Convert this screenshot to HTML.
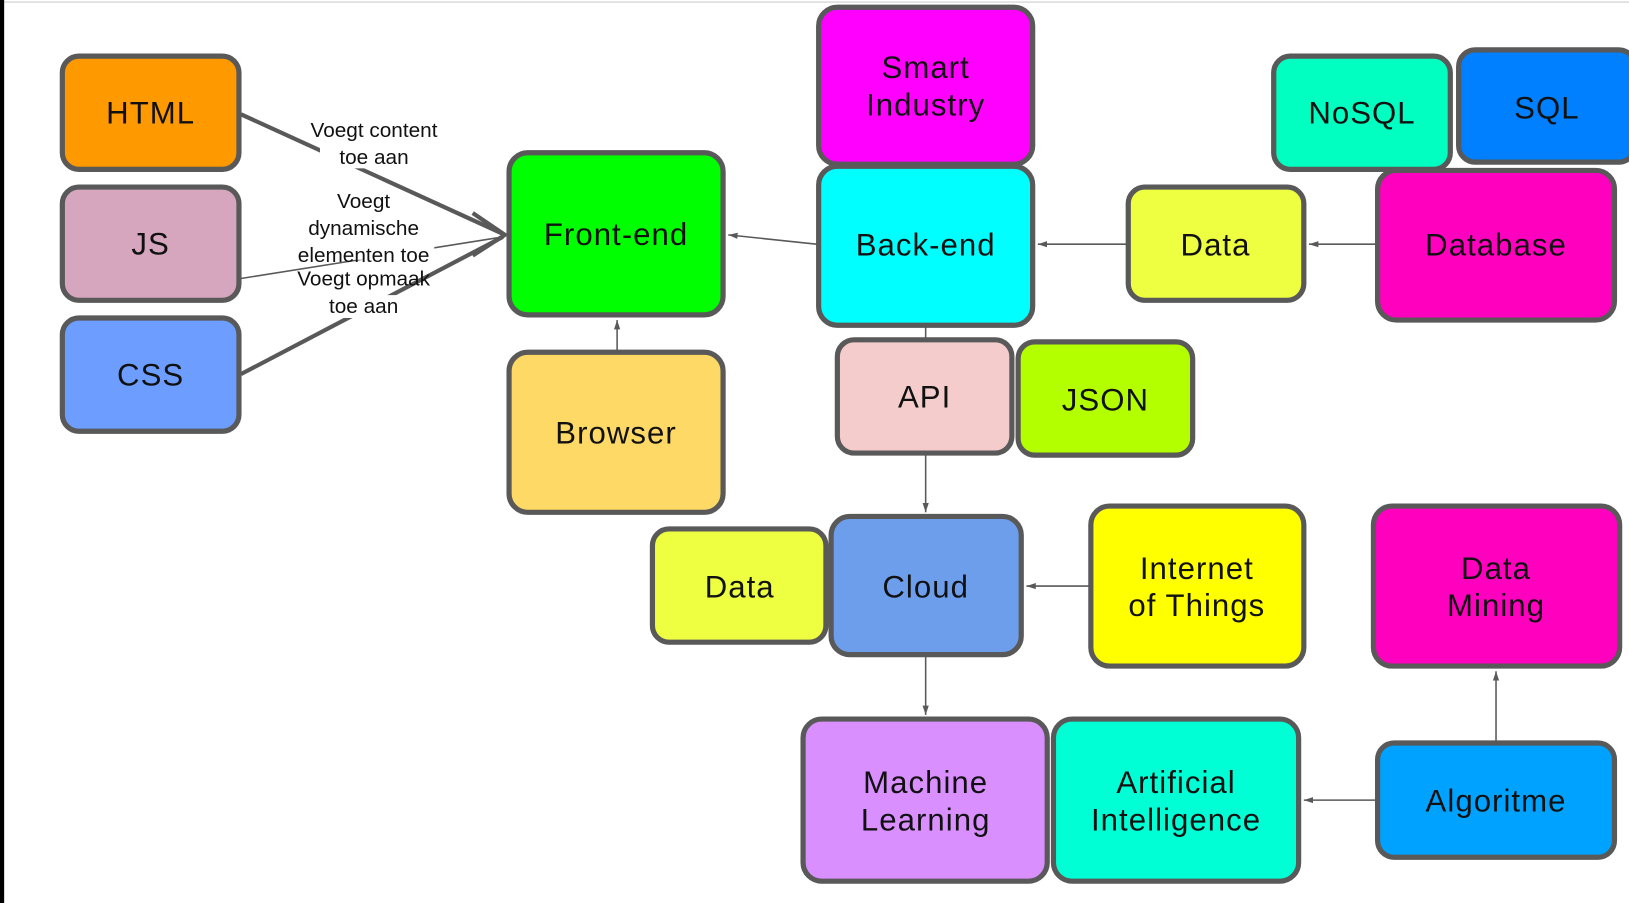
<!DOCTYPE html>
<html><head><meta charset="utf-8"><style>
html,body{margin:0;padding:0;background:#fff;width:1629px;height:903px;overflow:hidden}
svg{display:block}
.b{stroke:#595959;stroke-width:5}
.t{font-family:"Liberation Sans",sans-serif;font-size:30px;fill:#111;text-anchor:middle;letter-spacing:1px}
.l{font-family:"Liberation Sans",sans-serif;font-size:20px;fill:#111;text-anchor:middle}
.c{stroke:#595959;stroke-width:1.5;fill:none}
</style></head><body>
<svg width="1629" height="903" viewBox="0 0 1568 869" preserveAspectRatio="none">
<defs><marker id="a" markerWidth="10" markerHeight="10" refX="9" refY="5" orient="auto" markerUnits="userSpaceOnUse"><path d="M0,2 L9,5 L0,8 Z" fill="#595959"/></marker></defs>
<rect x="0" y="0" width="1568" height="869" fill="#fff"/>
<line x1="0" y1="2" x2="1568" y2="2" stroke="#ddd" stroke-width="1.5"/>
<rect x="0" y="0" width="4" height="869" fill="#000"/>

<!-- connectors -->
<line x1="232" y1="110" x2="484" y2="225" stroke="#595959" stroke-width="4"/>
<line x1="232" y1="268" x2="484" y2="228" stroke="#595959" stroke-width="1.5"/>
<line x1="232" y1="360" x2="484" y2="228" stroke="#595959" stroke-width="4"/>
<path d="M455,205 L486,226 L455,246" fill="none" stroke="#595959" stroke-width="4"/>
<rect x="308" y="140" width="82" height="22" fill="#fff"/>
<rect x="282" y="236" width="136" height="14" fill="#fff"/>
<rect x="312" y="284" width="74" height="22" fill="#fff"/>
<text class="l" x="360" y="132">Voegt content</text>
<text class="l" x="360" y="158">toe aan</text>
<text class="l" x="350" y="200">Voegt</text>
<text class="l" x="350" y="226">dynamische</text>
<text class="l" x="350" y="252">elementen toe</text>
<text class="l" x="350" y="275">Voegt opmaak</text>
<text class="l" x="350" y="301">toe aan</text>

<line class="c" x1="786" y1="235" x2="701" y2="226" marker-end="url(#a)"/>
<line class="c" x1="1084" y1="235" x2="999" y2="235" marker-end="url(#a)"/>
<line class="c" x1="1324" y1="235" x2="1260" y2="235" marker-end="url(#a)"/>
<line class="c" x1="594" y1="337" x2="594" y2="308" marker-end="url(#a)"/>
<line class="c" x1="891" y1="315" x2="891" y2="325"/>
<line class="c" x1="891" y1="438" x2="891" y2="493" marker-end="url(#a)"/>
<line class="c" x1="1048" y1="564" x2="988" y2="564" marker-end="url(#a)"/>
<line class="c" x1="891" y1="632" x2="891" y2="688" marker-end="url(#a)"/>
<line class="c" x1="1324" y1="770" x2="1255" y2="770" marker-end="url(#a)"/>
<line class="c" x1="1440" y1="713" x2="1440" y2="646" marker-end="url(#a)"/>

<!-- boxes -->
<g class="b">
<rect x="60" y="54" width="170" height="109" rx="16" fill="#ff9900"/>
<rect x="60" y="180" width="170" height="109" rx="16" fill="#d5a6bd"/>
<rect x="60" y="306" width="170" height="109" rx="16" fill="#6d9eff"/>
<rect x="490" y="147" width="206" height="156" rx="18" fill="#00ff00"/>
<rect x="490" y="339" width="206" height="154" rx="18" fill="#ffd966"/>
<rect x="788" y="7" width="206" height="151" rx="18" fill="#ff00ff"/>
<rect x="788" y="160" width="206" height="153" rx="18" fill="#00ffff"/>
<rect x="1226" y="54" width="170" height="109" rx="16" fill="#00ffc0"/>
<rect x="1404" y="48" width="170" height="108" rx="16" fill="#0080ff"/>
<rect x="1086" y="180" width="169" height="109" rx="16" fill="#eeff41"/>
<rect x="1326" y="164" width="228" height="144" rx="18" fill="#ff00bf"/>
<rect x="806" y="327" width="168" height="109" rx="16" fill="#f4cccc"/>
<rect x="980" y="329" width="168" height="109" rx="16" fill="#b3ff00"/>
<rect x="628" y="509" width="167" height="109" rx="16" fill="#eeff41"/>
<rect x="800" y="497" width="183" height="133" rx="18" fill="#6d9eeb"/>
<rect x="1050" y="487" width="205" height="154" rx="18" fill="#ffff00"/>
<rect x="1322" y="487" width="237" height="154" rx="18" fill="#ff00bf"/>
<rect x="773" y="692" width="235" height="156" rx="18" fill="#da8fff"/>
<rect x="1014" y="692" width="236" height="156" rx="18" fill="#00ffd5"/>
<rect x="1326" y="715" width="228" height="110" rx="16" fill="#00a2ff"/>
</g>

<text class="t" x="145" y="119">HTML</text>
<text class="t" x="145" y="245">JS</text>
<text class="t" x="145" y="371">CSS</text>
<text class="t" x="593" y="236">Front-end</text>
<text class="t" x="593" y="427">Browser</text>
<text class="t" x="891" y="75">Smart</text>
<text class="t" x="891" y="111">Industry</text>
<text class="t" x="891" y="246">Back-end</text>
<text class="t" x="1311" y="119">NoSQL</text>
<text class="t" x="1489" y="114">SQL</text>
<text class="t" x="1170" y="246">Data</text>
<text class="t" x="1440" y="246">Database</text>
<text class="t" x="890" y="392">API</text>
<text class="t" x="1064" y="395">JSON</text>
<text class="t" x="712" y="575">Data</text>
<text class="t" x="891" y="575">Cloud</text>
<text class="t" x="1152" y="557">Internet</text>
<text class="t" x="1152" y="593">of Things</text>
<text class="t" x="1440" y="557">Data</text>
<text class="t" x="1440" y="593">Mining</text>
<text class="t" x="891" y="763">Machine</text>
<text class="t" x="891" y="799">Learning</text>
<text class="t" x="1132" y="763">Artificial</text>
<text class="t" x="1132" y="799">Intelligence</text>
<text class="t" x="1440" y="781">Algoritme</text>
</svg>
</body></html>
